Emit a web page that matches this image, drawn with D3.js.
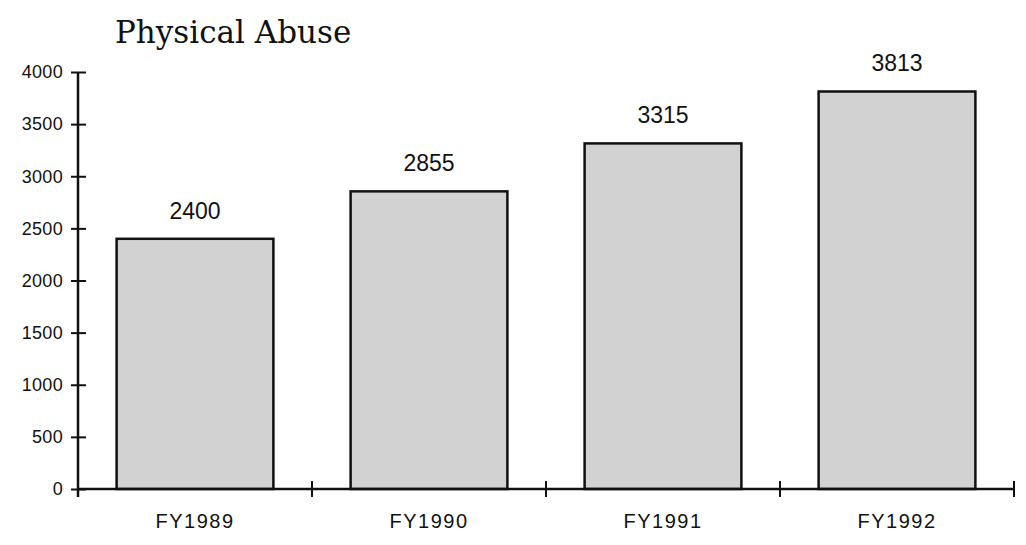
<!DOCTYPE html>
<html>
<head>
<meta charset="utf-8">
<script src="https://cdn.jsdelivr.net/npm/d3@7"></script>
<style>
  body { margin: 0; background: #fff; }
</style>
</head>
<body>
<div id="chart"></div>
<script>
const years = ['FY1989', 'FY1990', 'FY1991', 'FY1992'];
const cases = [2400, 2855, 3315, 3813];
const yTicks = [0, 500, 1000, 1500, 2000, 2500, 3000, 3500, 4000];

const width = 1026;
const height = 545;
const margin = { top: 72, right: 12, bottom: 56, left: 78 };

const svg = d3.select('#chart')
  .append('svg')
  .attr('width', width)
  .attr('height', height);

const x = d3.scaleBand()
  .domain(years)
  .range([margin.left, width - margin.right])
  .paddingInner(0.33)
  .paddingOuter(0.165);

const y = d3.scaleLinear()
  .domain([0, 4000])
  .range([height - margin.bottom, margin.top]);

// title
svg.append('text')
  .attr('x', 115)
  .attr('y', 43)
  .attr('font-family', 'DejaVu Serif, serif')
  .attr('font-size', '31px')
  .attr('fill', '#111')
  .text('Physical Abuse');

// bars
svg.append('g')
  .selectAll('rect')
  .data(cases)
  .join('rect')
    .attr('x', (d, i) => x(years[i]))
    .attr('y', d => y(d))
    .attr('width', x.bandwidth())
    .attr('height', d => y(0) - y(d))
    .attr('fill', '#d2d2d2')
    .attr('stroke', '#111')
    .attr('stroke-width', 2.5);

// value labels
svg.append('g')
  .selectAll('text')
  .data(cases)
  .join('text')
    .attr('x', (d, i) => x(years[i]) + x.bandwidth() / 2)
    .attr('y', d => y(d) - 20)
    .attr('text-anchor', 'middle')
    .attr('font-family', 'Liberation Sans, Arial, sans-serif')
    .attr('font-size', '23px')
    .attr('fill', '#111')
    .text(d => d);

// y axis
function yAxis(g) {
  g.attr('transform', `translate(${margin.left},0)`)
    .call(d3.axisLeft(y).tickValues(yTicks).tickFormat(d3.format('d'))
      .tickSizeInner(7).tickSizeOuter(0).tickPadding(8))
    .attr('font-family', 'Liberation Sans, Arial, sans-serif')
    .attr('font-size', '18px')
    .call(g => g.select('.domain').attr('stroke', '#111').attr('stroke-width', 2.5)
      .attr('d', `M0,${y(4000)}V${y(0) + 8}`))
    .call(g => g.selectAll('.tick line').attr('x1', 8).attr('stroke', '#111').attr('stroke-width', 2))
    .call(g => g.selectAll('.tick text').attr('fill', '#111').attr('letter-spacing', '0.3px'));
}

// x axis
function xAxis(g) {
  g.attr('transform', `translate(0,${y(0)})`)
    .call(d3.axisBottom(x).tickSize(0).tickPadding(25))
    .attr('font-family', 'Liberation Sans, Arial, sans-serif')
    .attr('font-size', '20px')
    .call(g => g.select('.domain').attr('stroke', '#111').attr('stroke-width', 2.5)
      .attr('d', `M${margin.left},0H${width - margin.right}`))
    .call(g => g.selectAll('.tick text').attr('fill', '#111').attr('letter-spacing', '1.5px'));
  // boundary ticks between categories
  g.append('g')
    .selectAll('line')
    .data(years)
    .join('line')
      .attr('x1', (d, i) => margin.left + (i + 1) * x.step())
      .attr('x2', (d, i) => margin.left + (i + 1) * x.step())
      .attr('y1', -8)
      .attr('y2', 8)
      .attr('stroke', '#111')
      .attr('stroke-width', 2);
}

svg.append('g').call(xAxis);
svg.append('g').call(yAxis);
</script>
</body>
</html>
